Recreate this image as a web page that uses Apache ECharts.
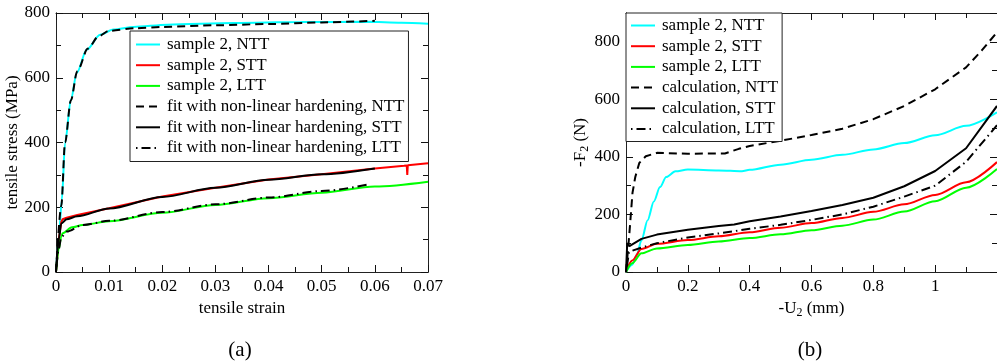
<!DOCTYPE html>
<html>
<head>
<meta charset="utf-8">
<script src="https://cdn.jsdelivr.net/npm/echarts@6/dist/echarts.min.js"></script>
<style>
html,body{margin:0;padding:0;background:#fff}
#main{width:997px;height:363px}
</style>
</head>
<body>
<div id="main"></div>
<script>
// (a) tensile tests: strain / stress (MPa)
var nttStrain = [0, 0.0005, 0.0011, 0.0017, 0.0028, 0.0039, 0.0058, 0.0083, 0.0108, 0.0146, 0.021, 0.0335, 0.046, 0.0586, 0.065, 0.07];
var nttStress = [0, 100, 223, 398, 532, 615, 687, 733, 749, 757, 764, 769, 772, 773, 770, 767];
var sttStrain = [0, 0.0005, 0.001, 0.00125, 0.002, 0.004, 0.01, 0.02, 0.03, 0.04, 0.05, 0.06, 0.0655, 0.066, 0.0661, 0.0662, 0.07];
var sttStress = [0, 100, 155, 163, 168, 176, 197, 233, 260, 286, 302, 320, 328, 329, 300, 330, 336];
var lttStrain = [0, 0.0005, 0.001, 0.00125, 0.003, 0.005, 0.01, 0.02, 0.03, 0.04, 0.05, 0.06, 0.07];
var lttStress = [0, 70, 110, 120, 138, 145, 157, 183, 207, 228, 245, 264, 279];

var fitNttStrain = [0, 0.001, 0.0017, 0.0028, 0.004, 0.006, 0.008, 0.01, 0.015, 0.02, 0.03, 0.04, 0.05, 0.06];
var fitNttStress = [0, 205, 400, 530, 620, 690, 728, 745, 753, 757, 762, 766, 771, 776];
var fitSttStrain = [0, 0.0005, 0.001, 0.002, 0.004, 0.01, 0.02, 0.03, 0.04, 0.05, 0.06];
var fitSttStress = [0, 100, 150, 163, 172, 196, 232, 260, 285, 302, 320];
var fitLttStrain = [0, 0.0005, 0.001, 0.002, 0.005, 0.01, 0.02, 0.03, 0.04, 0.05, 0.059];
var fitLttStress = [0, 70, 108, 125, 145, 158, 185, 209, 230, 250, 271];

// (b) -U2 (mm) / -F2 (N)
var expU = [0, 0.02, 0.05, 0.1, 0.2, 0.3, 0.4, 0.5, 0.6, 0.7, 0.8, 0.9, 1.0, 1.1, 1.2];
var expSttF = [0, 40, 80, 98, 111, 124, 138, 154, 170, 188, 209, 235, 268, 312, 382];
var expLttF = [0, 30, 65, 82, 94, 106, 118, 131, 145, 161, 182, 210, 246, 293, 358];
var expNttU = [0, 0.02, 0.035, 0.05, 0.07, 0.09, 0.11, 0.13, 0.16, 0.2, 0.3, 0.375, 0.4, 0.5, 0.6, 0.7, 0.8, 0.9, 1.0, 1.1, 1.2];
var expNttF = [0, 25, 60, 110, 180, 245, 295, 330, 350, 356, 353, 350, 355, 373, 390, 407, 426, 448, 475, 508, 555];

var calcNttU = [0, 0.005, 0.011, 0.021, 0.03, 0.043, 0.064, 0.1, 0.2, 0.32, 0.365, 0.4, 0.5, 0.6, 0.7, 0.8, 0.9, 1.0, 1.1, 1.15, 1.2];
var calcNttF = [0, 60, 135, 275, 330, 379, 402, 414, 411, 412, 428, 438, 456, 476, 498, 531, 577, 635, 711, 769, 833];
var calcSttU = [0, 0.004, 0.011, 0.05, 0.1, 0.2, 0.3, 0.35, 0.4, 0.5, 0.6, 0.7, 0.8, 0.9, 1.0, 1.1, 1.2];
var calcSttF = [0, 100, 90, 115, 130, 147, 160, 165, 176, 193, 212, 233, 258, 298, 351, 430, 577];
var calcLttU = [0, 0.01, 0.05, 0.1, 0.2, 0.3, 0.4, 0.5, 0.6, 0.7, 0.8, 0.9, 1.0, 1.1, 1.2];
var calcLttF = [0, 70, 85, 100, 120, 134, 150, 164, 181, 200, 227, 262, 300, 383, 510];

var leftNames = ['sample 2, NTT', 'sample 2, STT', 'sample 2, LTT',
  'fit with non-linear hardening, NTT', 'fit with non-linear hardening, STT', 'fit with non-linear hardening, LTT'];
var rightNames = ['sample 2, NTT', 'sample 2, STT', 'sample 2, LTT',
  'calculation, NTT', 'calculation, STT', 'calculation, LTT'];

var FONT = 'Liberation Serif';
var dashNtt = [8, 5];
var dashLtt = [1.5, 4, 9, 4];

function zip(xs, ys) {
  var out = [];
  for (var i = 0; i < xs.length; i++) out.push([xs[i], ys[i]]);
  return out;
}

function line(name, xs, ys, color, type, g, smooth) {
  return {
    name: name,
    type: 'line',
    xAxisIndex: g,
    yAxisIndex: g,
    data: zip(xs, ys),
    symbol: 'none',
    showSymbol: false,
    smooth: smooth ? 0.3 : false,
    smoothMonotone: 'x',
    lineStyle: { color: color, width: 2, type: type },
    itemStyle: { color: color },
    z: 3
  };
}

// labelled axis (frame line, labels, name)
function axis(g, pos, min, max, step, name, gap) {
  return {
    type: 'value',
    gridIndex: g,
    position: pos,
    min: min,
    max: max,
    interval: step,
    name: name,
    nameLocation: 'middle',
    nameGap: gap,
    nameTextStyle: {
      fontFamily: FONT, fontSize: 17, color: '#000',
      rich: { s: { fontFamily: FONT, fontSize: 12, color: '#000', padding: [9, 0, 0, 0], verticalAlign: 'bottom' } }
    },
    axisLine: { show: true, onZero: false, lineStyle: { color: '#222', width: 1 } },
    axisTick: { show: false },
    splitLine: { show: false },
    axisLabel: {
      fontFamily: FONT, fontSize: 17, color: '#000', margin: 6,
      showMaxLabel: g !== 1
    }
  };
}

// tick-only axis on an overlay grid (the frame's tick marks)
function tickAxis(g, pos, min, max, step) {
  return {
    type: 'value',
    gridIndex: g,
    position: pos,
    min: min,
    max: max,
    interval: step,
    axisLine: { show: true, onZero: false, lineStyle: { color: '#222', width: 1 } },
    axisTick: { show: true, inside: true, length: 7, lineStyle: { color: '#111', width: 1 } },
    minorTick: { show: true, splitNumber: 2, length: 5, lineStyle: { color: '#111', width: 1 } },
    splitLine: { show: false },
    axisLabel: { show: false }
  };
}

var legendBase = {
  orient: 'vertical',
  itemWidth: 24,
  itemHeight: 14,
  itemGap: 3.7,
  backgroundColor: '#fff',
  borderColor: '#222',
  borderWidth: 1,
  borderRadius: 0,
  selectedMode: false,
  itemStyle: { opacity: 0 },
  textStyle: { fontFamily: FONT, fontSize: 17, color: '#000', padding: [0, 0, 0, 2] },
  z: 10
};

var gridA = { left: 56, top: 13, width: 372, height: 259 };
var gridB = { left: 626, top: 13, width: 372, height: 259 };

var option = {
  animation: false,
  backgroundColor: '#fff',
  grid: [gridA, gridB, gridA, gridB],
  xAxis: [
    axis(0, 'bottom', 0, 0.07, 0.01, 'tensile strain', 20),
    axis(1, 'bottom', 0, 1.2, 0.2, '-U{s|2} (mm)', 20),
    tickAxis(2, 'bottom', 0, 0.07, 0.01),
    tickAxis(2, 'top', 0, 0.07, 0.01),
    tickAxis(3, 'bottom', 0, 1.2, 0.2),
    tickAxis(3, 'top', 0, 1.2, 0.2)
  ],
  yAxis: [
    axis(0, 'left', 0, 800, 200, 'tensile stress (MPa)', 30),
    axis(1, 'left', 0, 900, 200, '-F{s|2} (N)', 31),
    tickAxis(2, 'left', 0, 800, 200),
    tickAxis(2, 'right', 0, 800, 200),
    tickAxis(3, 'left', 0, 900, 200),
    tickAxis(3, 'right', 0, 900, 200)
  ],
  legend: [
    Object.assign({}, legendBase, { data: leftNames, left: 130, top: 31, padding: [5, 4, 5, 5] }),
    Object.assign({}, legendBase, { data: rightNames, left: 626, top: 13, padding: [4, 4, 4, 4] })
  ],
  graphic: [
    { type: 'text', x: 240, y: 350, style: { text: '(a)', align: 'center', verticalAlign: 'middle', fontFamily: FONT, fontSize: 21, fill: '#000' } },
    { type: 'text', x: 810, y: 350, style: { text: '(b)', align: 'center', verticalAlign: 'middle', fontFamily: FONT, fontSize: 21, fill: '#000' } }
  ],
  series: [
    line(leftNames[0], nttStrain, nttStress, '#00ffff', 'solid', 0, true),
    line(leftNames[1], sttStrain, sttStress, '#ff0000', 'solid', 0, false),
    line(leftNames[2], lttStrain, lttStress, '#00ff00', 'solid', 0, true),
    line(leftNames[3], fitNttStrain, fitNttStress, '#000', dashNtt, 0, true),
    line(leftNames[4], fitSttStrain, fitSttStress, '#000', 'solid', 0, true),
    line(leftNames[5], fitLttStrain, fitLttStress, '#000', dashLtt, 0, true),

    line(rightNames[0], expNttU, expNttF, '#00ffff', 'solid', 1, true),
    line(rightNames[1], expU, expSttF, '#ff0000', 'solid', 1, true),
    line(rightNames[2], expU, expLttF, '#00ff00', 'solid', 1, true),
    line(rightNames[3], calcNttU, calcNttF, '#000', dashNtt, 1, false),
    line(rightNames[4], calcSttU, calcSttF, '#000', 'solid', 1, false),
    line(rightNames[5], calcLttU, calcLttF, '#000', dashLtt, 1, false)
  ]
};

var chart = echarts.init(document.getElementById('main'));
chart.setOption(option);
</script>
</body>
</html>
